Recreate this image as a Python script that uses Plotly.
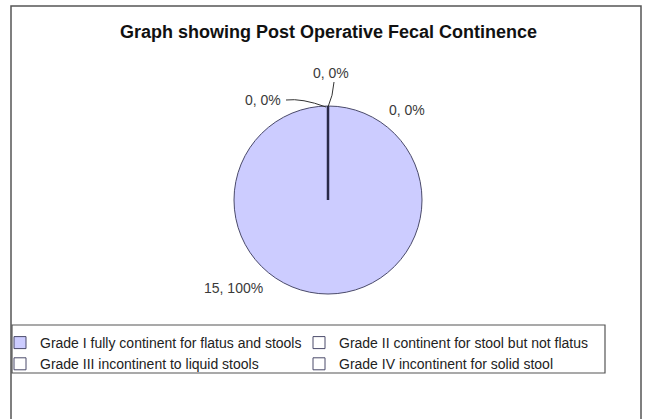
import plotly.graph_objects as go

W, H = 646, 419
title = "Graph showing Post Operative Fecal Continence"
labels = [
    "Grade I fully continent for flatus and stools",
    "Grade II continent for stool but not flatus",
    "Grade III incontinent to liquid stools",
    "Grade IV incontinent for solid stool",
]
values = [15, 0, 0, 0]
colors = ["#CCCCFF", "#FFFFFF", "#FFFFFF", "#FFFFFF"]

total = sum(values)
label_text = [f"{v}, {round(100 * v / total)}%" for v in values]

def px(x):
    return x / W

def py(y):
    return 1 - y / H

cx, cy, r = 328, 200, 94

fig = go.Figure(go.Pie(
    labels=labels,
    values=values,
    sort=False,
    direction="clockwise",
    rotation=0,
    marker=dict(colors=colors, line=dict(color="#4a4a6a", width=1)),
    textinfo="none",
    hoverinfo="label+value+percent",
    domain=dict(x=[px(cx - r), px(cx + r)], y=[py(cy + r), py(cy - r)]),
    showlegend=True,
))

# label positions (pixel) for each slice label
label_pos = [(233, 288), (263, 100), (331, 73), (407, 110)]
annotations = []
for t, (x, y) in zip(label_text, label_pos):
    annotations.append(dict(
        x=px(x), y=py(y), xref="paper", yref="paper", text=t, showarrow=False,
        font=dict(family="Liberation Sans, Arial", size=14, color="#3a3a3a"),
        xanchor="center", yanchor="middle",
    ))
annotations.append(dict(
    x=px(328), y=py(32), xref="paper", yref="paper", text="<b>" + title + "</b>",
    showarrow=False, font=dict(family="Liberation Sans, Arial", size=18, color="#111111"),
    xanchor="center", yanchor="middle",
))

shapes = [
    # outer frame (no bottom edge visible)
    dict(type="path", xref="paper", yref="paper",
         path=f"M {px(11)},{py(440)} L {px(11)},{py(6)} L {px(641)},{py(6)} L {px(641)},{py(440)}",
         line=dict(color="#555555", width=1.5)),
    # radial line of zero slices
    dict(type="line", xref="paper", yref="paper", x0=px(cx), y0=py(cy), x1=px(cx), y1=py(cy - r),
         line=dict(color="#2a2a48", width=2.5)),
    # leader lines
    dict(type="path", xref="paper", yref="paper",
         path=f"M {px(286)},{py(100)} Q {px(302)},{py(98)} {px(326)},{py(107)}",
         line=dict(color="#333333", width=1)),
    dict(type="path", xref="paper", yref="paper",
         path=f"M {px(334)},{py(82)} Q {px(333)},{py(96)} {px(328)},{py(107)}",
         line=dict(color="#333333", width=1)),
    # legend box
    dict(type="rect", xref="paper", yref="paper", x0=px(12), x1=px(605), y0=py(373), y1=py(325),
         line=dict(color="#555555", width=1.2)),
]

fig.update_layout(
    width=W, height=H,
    margin=dict(l=0, r=0, t=0, b=0),
    paper_bgcolor="white", plot_bgcolor="white",
    annotations=annotations,
    shapes=shapes,
    legend=dict(
        orientation="h", x=0, y=py(327), xanchor="left", yanchor="top",
        entrywidth=254, entrywidthmode="pixels",
        font=dict(family="Liberation Sans, Arial", size=14, color="#222222"),
        bgcolor="rgba(0,0,0,0)", itemclick=False, itemdoubleclick=False,
        traceorder="normal",
    ),
)

fig.write_html("out.html")
